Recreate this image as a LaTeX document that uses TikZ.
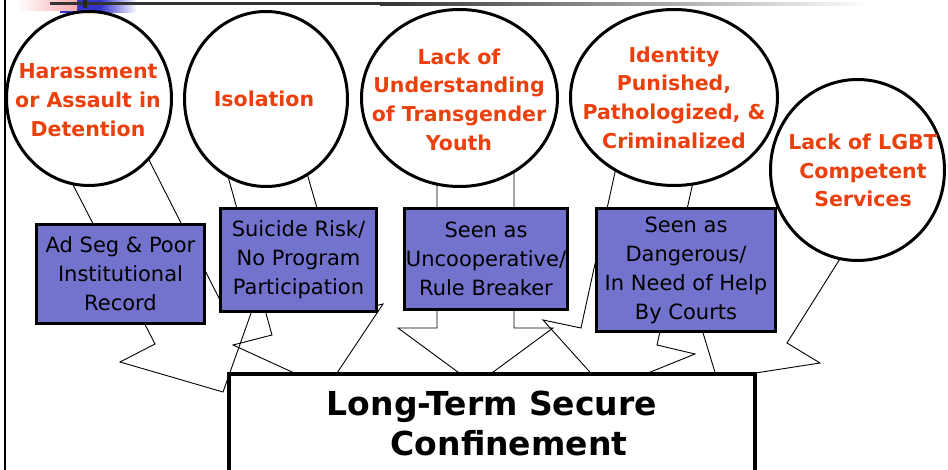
\documentclass[tikz,border=0pt]{standalone}
\usepackage{fontspec}
\setmainfont{DejaVu Sans}
\usetikzlibrary{shapes.geometric,backgrounds}
\definecolor{redtxt}{RGB}{234,64,14}
\definecolor{boxfill}{RGB}{115,115,206}
\definecolor{tplblue}{RGB}{51,51,204}
\definecolor{tplpink}{RGB}{246,172,172}
\begin{document}
\begin{tikzpicture}[x=1pt,y=-1pt,
  circ/.style={ellipse,draw=black,line width=3pt,fill=white,inner sep=0pt},
  ctext/.style={inner sep=0pt,align=center,text=redtxt,font=\bfseries\fontsize{20.5}{28.7}\selectfont},
  pbox/.style={rectangle,draw=black,line width=3pt,fill=boxfill,inner sep=0pt,align=center,font=\fontsize{21}{29}\selectfont},
  bolt/.style={draw=black,line width=0.9pt,line join=miter}
]
\useasboundingbox (0,0) rectangle (948,470);
\clip (0,0) rectangle (948,470);
% template decoration
\fill[tplblue] (60,0) rectangle (100,13);
\shade[left color=tplblue,right color=white] (100,0) rectangle (137,13);
\shade[left color=white,right color=tplpink] (17,0) rectangle (77,10.5);
\fill[black!80] (50,2.5) rectangle (380,5.5);
\shade[left color=black!80,right color=white] (380,2.5) rectangle (870,5.5);
\fill[black!85] (83,0) rectangle (87,8);
\draw[line width=2pt] (5,0) -- (5,470);

% circles
\node[circ,minimum width=165,minimum height=174] (c1) at (89,98.5) {};
\node[circ,minimum width=163,minimum height=175] (c2) at (266,99) {};
\node[circ,minimum width=196,minimum height=177] (c3) at (459.5,98) {};
\node[circ,minimum width=207,minimum height=176] (c4) at (674,97.5) {};
\node[circ,minimum width=174,minimum height=181] (c5) at (857.5,170) {};
\node[ctext] (t1) at (88,100) {Harassment\\or Assault in\\Detention};
\node[ctext] (t2) at (264,99) {Isolation};
\node[ctext] (t3) at (459,99.5) {Lack of\\Understanding\\of Transgender\\Youth};
\node[ctext] (t4) at (674,97.5) {Identity\\Punished,\\Pathologized, \&\\Criminalized};
\node[ctext] (t5) at (863,170.5) {Lack of LGBT\\Competent\\Services};

% boxes
\node[pbox,minimum width=168,minimum height=99] (b1) at (120.5,274) {Ad Seg \& Poor\\Institutional\\Record};
\node[pbox,minimum width=156,minimum height=103] (b2) at (298.5,260) {Suicide Risk/\\No Program\\Participation};
\node[pbox,minimum width=163,minimum height=101] (b3) at (486,259) {Seen as\\Uncooperative/\\Rule Breaker};
\node[pbox,minimum width=179,minimum height=123] (b4) at (686,270) {Seen as\\Dangerous/\\In Need of Help\\By Courts};

% bottom box
\node[rectangle,draw=black,line width=4pt,fill=white,minimum width=526,minimum height=140] (bot) at (492,444) {};
\node[inner sep=0pt,align=center,font=\bfseries\fontsize{33}{40}\selectfont] (tb) at (492,423) {Long-Term Secure\\\hspace*{34pt}Confinement};

% lightning connectors behind everything
\begin{pgfonlayer}{background}
\draw[bolt] (c1.center) -- (70,179) -- (155,344) -- (120,362) -- (223,392) -- (255,302) -- (225,310) -- (146,154) -- cycle;
\draw[bolt] (c2.center) -- (226.5,171) -- (272,335) -- (233,345) -- (327,388) -- (383,304) -- (347,312.5) -- (305.5,168) -- cycle;
\draw[bolt] (c3.center) -- (437,180) -- (437,328) -- (398,328) -- (475.5,385) -- (553,328) -- (514,328) -- (514,165) -- cycle;
\draw[bolt] (c4.center) -- (617,163) -- (581,328) -- (543,320) -- (606,390) -- (695,354) -- (657,345) -- (693.5,180) -- cycle;
\draw[bolt] (c5.center) -- (843,254) -- (787,343) -- (820,363) -- (717,379) -- (697,313) -- (772,212) -- (782,202) -- cycle;
\end{pgfonlayer}
\end{tikzpicture}
\end{document}
